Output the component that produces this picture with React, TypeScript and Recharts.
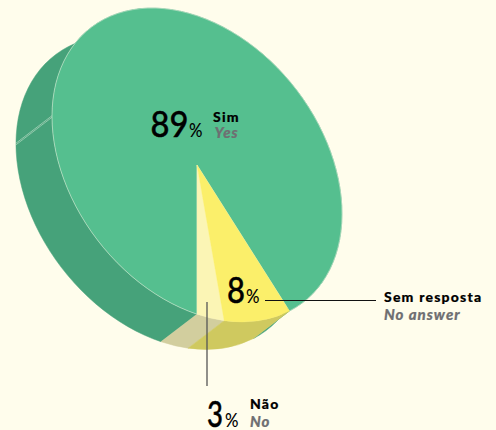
import React from "react";
import { PieChart, Pie, Sector } from "recharts";

const categories = ["Sim", "Não", "Sem resposta"];
const translations = ["Yes", "No", "No answer"];
const values = [89, 3, 8];
const topColors = ["#55BF8F", "#FBF5B5", "#FBEF6A"];
const sideColors = ["#46A27A", "#D2CE9E", "#CFC95F"];

const W = 496;
const H = 430;
const CX = 197;
const CY = 165;
const R = 150;
const BG = "#FFFDEC";
// Tilt of the disc: maps the library's circle to the ellipse in the picture
const M = { a: 145 / R, b: 48.7 / R, c: 0, d: 149.2 / R };
const DEPTH = { x: -36, y: 27.5 };
const det = M.a * M.d - M.b * M.c;
const du = {
  x: (M.d * DEPTH.x - M.c * DEPTH.y) / det,
  y: (-M.b * DEPTH.x + M.a * DEPTH.y) / det,
};
const tilt = `translate(${CX} ${CY}) matrix(${M.a} ${M.b} ${M.c} ${M.d} 0 0) translate(${-CX} ${-CY})`;

const topData = categories.map((name, i) => ({ name, value: values[i], fill: topColors[i] }));
const sideData = categories.map((name, i) => ({ name, value: values[i], fill: sideColors[i] }));

const pt = (cx: number, cy: number, r: number, deg: number) => ({
  x: cx + r * Math.cos((-deg * Math.PI) / 180),
  y: cy + r * Math.sin((-deg * Math.PI) / 180),
});

function SideShape(p: any) {
  const { cx, cy, outerRadius: r, startAngle, endAngle, fill } = p;
  const s = pt(cx, cy, r, startAngle);
  const e = pt(cx, cy, r, endAngle);
  const large = Math.abs(endAngle - startAngle) > 180 ? 1 : 0;
  const d =
    `M${s.x} ${s.y} A${r} ${r} 0 ${large} 0 ${e.x} ${e.y} ` +
    `L${e.x + du.x} ${e.y + du.y} A${r} ${r} 0 ${large} 1 ${s.x + du.x} ${s.y + du.y} Z`;
  const seam = pt(cx, cy, r, 180);
  return (
    <g transform={tilt}>
      <path d={d} fill={fill} stroke={fill} strokeWidth={0.5} />
      {large === 1 && (
        <g stroke="#BFE0C8" strokeWidth={0.6} fill="none">
          <line x1={seam.x} y1={seam.y - 0.6} x2={seam.x + du.x} y2={seam.y + du.y - 0.6} />
          <line x1={seam.x} y1={seam.y + 1} x2={seam.x + du.x} y2={seam.y + du.y + 1} />
        </g>
      )}
    </g>
  );
}

function TopShape(p: any) {
  const big = Math.abs(p.endAngle - p.startAngle) > 180;
  return (
    <g transform={tilt}>
      <Sector {...p} stroke={big ? "#CDE9CF" : p.fill} strokeWidth={big ? 0.6 : 0.3} />
    </g>
  );
}

const num = { fontFamily: "Lato", fontWeight: 500, fill: "#000", stroke: "#000", strokeWidth: 0.4 };
const pct = { fontFamily: "Lato", fontWeight: 500, fill: "#000" };
const lab = { fontFamily: "Lato", fontWeight: 900, fontSize: 14, fill: "#000", letterSpacing: 1.2, stroke: "#000", strokeWidth: 0.2 };
const sub = { fontFamily: "Lato", fontWeight: 900, fontStyle: "italic", fontSize: 15, fill: "#6F6F72", letterSpacing: 1, stroke: "#6F6F72", strokeWidth: 0.2 };

function Callout({ x, y, numW, px, i, lx, ly, sx, sy }: any) {
  return (
    <g>
      <text x={x} y={y} style={num} fontSize={36} textLength={numW} lengthAdjust="spacingAndGlyphs">{values[i]}</text>
      <text x={px} y={y} style={pct} fontSize={19} textLength={13.5} lengthAdjust="spacingAndGlyphs">%</text>
      <text x={lx} y={ly} style={lab}>{categories[i]}</text>
      <text x={sx} y={sy} style={sub}>{translations[i]}</text>
    </g>
  );
}

const common: any = {
  dataKey: "value",
  cx: CX,
  cy: CY,
  innerRadius: 0,
  outerRadius: R,
  startAngle: -50.4,
  endAngle: 309.6,
  paddingAngle: 0,
  isAnimationActive: false,
  stroke: "none",
  rootTabIndex: -1,
};

export default function App() {
  return (
    <div style={{ position: "absolute", left: 0, top: 0, width: W, height: H, background: BG, overflow: "hidden" }}>
      <PieChart width={W} height={H} margin={{ top: 0, right: 0, bottom: 0, left: 0 }}>
        <Pie {...common} data={sideData} shape={SideShape} inactiveShape={SideShape} activeShape={SideShape} />
        <Pie {...common} data={topData} shape={TopShape} inactiveShape={TopShape} activeShape={TopShape} />
      </PieChart>
      <svg width={W} height={H} style={{ position: "absolute", left: 0, top: 0, pointerEvents: "none" }}>
        <line x1={207} y1={302} x2={207} y2={386} stroke="#555" strokeWidth={1.3} />
        <line x1={265} y1={300.5} x2={376} y2={300.5} stroke="#111" strokeWidth={1} />
        <Callout i={0} x={150.5} y={137} numW={38} px={189} lx={213} ly={122} sx={214.5} sy={138} />
        <Callout i={2} x={227} y={303} numW={18} px={246} lx={384} ly={302} sx={384} sy={320} />
        <Callout i={1} x={207} y={427} numW={16} px={225} lx={250} ly={409} sx={250} sy={427} />
      </svg>
    </div>
  );
}
